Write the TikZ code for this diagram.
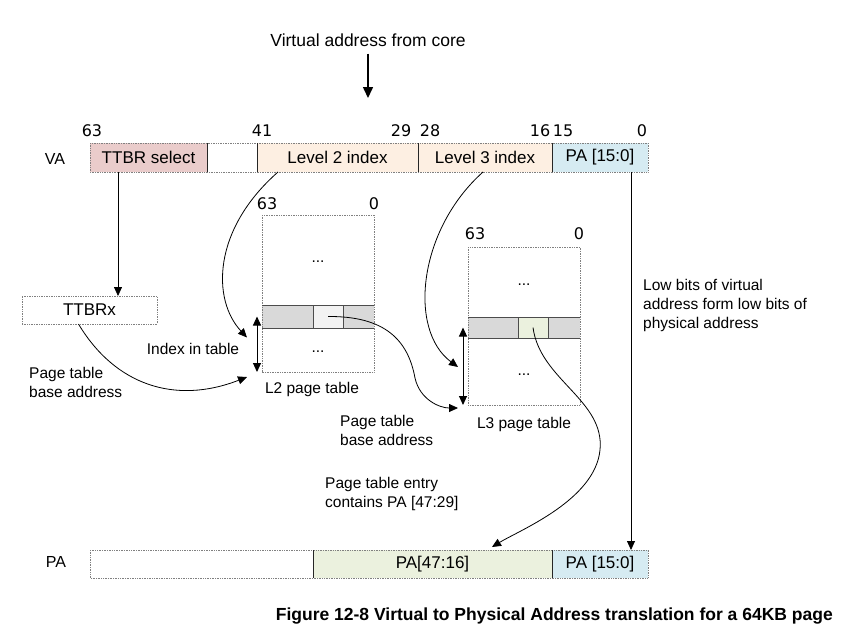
\documentclass[tikz,border=0pt]{standalone}
\usepackage{fontspec}
\setmainfont{Liberation Sans}
\newfontfamily\numfont{DejaVu Sans}
\usetikzlibrary{arrows.meta,calc}
\definecolor{ttbrfill}{HTML}{EACCCB}
\definecolor{idxfill}{HTML}{FDEFE2}
\definecolor{lowfill}{HTML}{D6EBF2}
\definecolor{highfill}{HTML}{EBF1DE}
\definecolor{rowfill}{HTML}{D9D9D9}
\definecolor{entryfill}{HTML}{F2F2F2}
\begin{document}
\begin{tikzpicture}[x=1pt,y=-1pt,
  cell/.style={anchor=north west, inner sep=0pt, outer sep=0pt, minimum height=29pt,
    font=\fontsize{17}{20}\selectfont},
  tbl/.style={anchor=north west, inner sep=0pt, outer sep=0pt},
  outline/.style={draw=black!50, densely dotted, line width=0.7pt},
  divider/.style={draw=black!85, line width=0.8pt},
  rowline/.style={draw=black!70, line width=0.8pt},
  bitnum/.style={font=\numfont\fontsize{16}{18}\selectfont, inner sep=0pt},
  lbl/.style={font=\fontsize{15.5}{19}\selectfont, inner sep=0pt, align=left},
  arr/.style={-{Triangle[length=9pt,width=8pt]}, line width=0.8pt},
  darr/.style={{Triangle[length=9pt,width=8pt]}-{Triangle[length=9pt,width=8pt]}, line width=1pt},
]
\useasboundingbox (0,0) rectangle (848,638);

% incoming virtual address
\node[font=\fontsize{17.5}{20}\selectfont, inner sep=0pt] (vtext) at (368,40) {Virtual address from core};
\coordinate (vin) at (368,98);
\draw[-{Triangle[length=11pt,width=10pt]}, line width=1.5pt] ([yshift=-7pt]vtext.south) -- (vin);

% VA register
\node[font=\fontsize{16}{18}\selectfont, inner sep=0pt] (valbl) at (55,159) {VA};
\node[cell, fill=ttbrfill, minimum width=117pt] (vttbr) at (90,143) {TTBR select};
\node[cell, minimum width=50pt] (vblank) at (207,143) {};
\node[cell, fill=idxfill, minimum width=161pt] (vl2) at (257,143) {Level 2 index};
\node[cell, fill=idxfill, minimum width=134pt] (vl3) at (418,143) {Level 3 index};
\node[cell, fill=lowfill, minimum width=96pt] (vpa) at (552,143) {PA [15:0]};
\draw[outline] (vttbr.north west) rectangle (vpa.south east);
\foreach \c in {vblank,vl2,vl3,vpa}
  \draw[divider] (\c.north west) -- (\c.south west);

% VA bit numbers
\node[bitnum] (b63) at (92,131) {63};
\node[bitnum] (b41) at (262,131) {41};
\node[bitnum] (b29) at (401,131) {29};
\node[bitnum] (b28) at (430,131) {28};
\node[bitnum] (b16) at (540,131) {16};
\node[bitnum] (b15) at (563,131) {15};
\node[bitnum] (b0) at (642,131) {0};

% TTBRx register
\node[tbl, draw=black!50, densely dotted, line width=0.7pt, minimum width=135pt, minimum height=28pt,
  font=\fontsize{17}{20}\selectfont] (ttbrx) at (22,296) {TTBRx};

% L2 page table
\node[tbl, minimum width=112pt, minimum height=157pt] (l2) at (262,215) {};
\node[tbl, fill=rowfill, minimum width=112pt, minimum height=23pt] (l2row) at (262,305) {};
\node[tbl, fill=entryfill, minimum width=30pt, minimum height=23pt] (l2ent) at (313,305) {};
\draw[outline] (l2.north west) rectangle (l2.south east);
\draw[rowline] (l2row.north west) -- (l2row.north east);
\draw[rowline] (l2row.south west) -- (l2row.south east);
\draw[rowline] (l2ent.north west) -- (l2ent.south west);
\draw[rowline] (l2ent.north east) -- (l2ent.south east);
\node[bitnum] (l2b63) at (267,204) {63};
\node[bitnum] (l2b0) at (374,204) {0};
\node[lbl] (l2dtop) at (318,262) {...};
\node[lbl] (l2dbot) at (318,352) {...};
\node[lbl] (l2name) at (312,389) {L2 page table};

% L3 page table
\node[tbl, minimum width=112pt, minimum height=158pt] (l3) at (468,247) {};
\node[tbl, fill=rowfill, minimum width=112pt, minimum height=21pt] (l3row) at (468,317) {};
\node[tbl, fill=highfill, minimum width=30pt, minimum height=21pt] (l3ent) at (518,317) {};
\draw[outline] (l3.north west) rectangle (l3.south east);
\draw[rowline] (l3row.north west) -- (l3row.north east);
\draw[rowline] (l3row.south west) -- (l3row.south east);
\draw[rowline] (l3ent.north west) -- (l3ent.south west);
\draw[rowline] (l3ent.north east) -- (l3ent.south east);
\node[bitnum] (l3b63) at (475,234) {63};
\node[bitnum] (l3b0) at (579,234) {0};
\node[lbl] (l3dtop) at (524,285) {...};
\node[lbl] (l3dbot) at (524,375) {...};
\node[lbl] (l3name) at (524,424) {L3 page table};

% PA register
\node[font=\fontsize{16}{18}\selectfont, inner sep=0pt] (palbl) at (56,562) {PA};
\node[cell, minimum width=223pt, minimum height=28pt] (pblank) at (90,550) {};
\node[cell, fill=highfill, minimum width=239pt, minimum height=28pt] (phigh) at (313,550) {PA[47:16]};
\node[cell, fill=lowfill, minimum width=96pt, minimum height=28pt] (plow) at (552,550) {PA [15:0]};
\draw[outline] (pblank.north west) rectangle (plow.south east);
\foreach \c in {phigh,plow}
  \draw[divider] (\c.north west) -- (\c.south west);

% free-standing labels
\node[lbl] (idxlbl) at (193,349) {Index in table};
\node[lbl, anchor=west] (base1) at (29,382) {Page table\\base address};
\node[lbl, anchor=west] (base2) at (340,430) {Page table\\base address};
\node[lbl, anchor=west] (entrylbl) at (325,494) {Page table entry\\contains PA [47:29]};
\node[lbl, anchor=west] (lowlbl) at (643,305) {Low bits of virtual\\address form low bits of\\physical address};
\node[font=\bfseries\fontsize{17.5}{20}\selectfont, inner sep=0pt, anchor=east] (caption) at (833,616)
  {Figure 12-8 Virtual to Physical Address translation for a 64KB page};

% index ranges inside the tables
\draw[darr] ([xshift=-5pt]l2row.west) -- ([xshift=-5pt]l2.south west);
\draw[darr] ([xshift=-5pt]l3row.west) -- ([xshift=-5pt]l3.south west);

% connectors
\draw[arr] ([xshift=28pt]vttbr.south west) -- ([xshift=28.5pt]ttbrx.north);
\draw[arr] ([xshift=21pt]vl2.south west) .. controls (212,230) and (212,300) .. ([xshift=-15pt,yshift=-21pt]l2row.west);
\draw[arr] ([xshift=-11pt]ttbrx.south) .. controls (115,385) and (175,405) .. ([xshift=-15pt,yshift=-5pt]l2.south west);
\draw[arr] (l2ent.center) .. controls (385,316) and (408,340) .. (415,378)
  .. controls (420,400) and (440,408) .. ([xshift=-10pt,yshift=-3pt]l3.south west);
\draw[arr] ([xshift=65pt]vl3.south west) .. controls (418,230) and (408,330) .. ([xshift=-10pt,yshift=-39.5pt]l3row.west);
\draw[arr] (l3ent.center) .. controls (540,380) and (605,400) .. (600,450)
  .. controls (595,500) and (520,530) .. ([xshift=-60pt,yshift=3pt]phigh.north east);
\draw[arr] ([xshift=79pt]vpa.south west) -- ([xshift=79pt]plow.north west);
\end{tikzpicture}
\end{document}
